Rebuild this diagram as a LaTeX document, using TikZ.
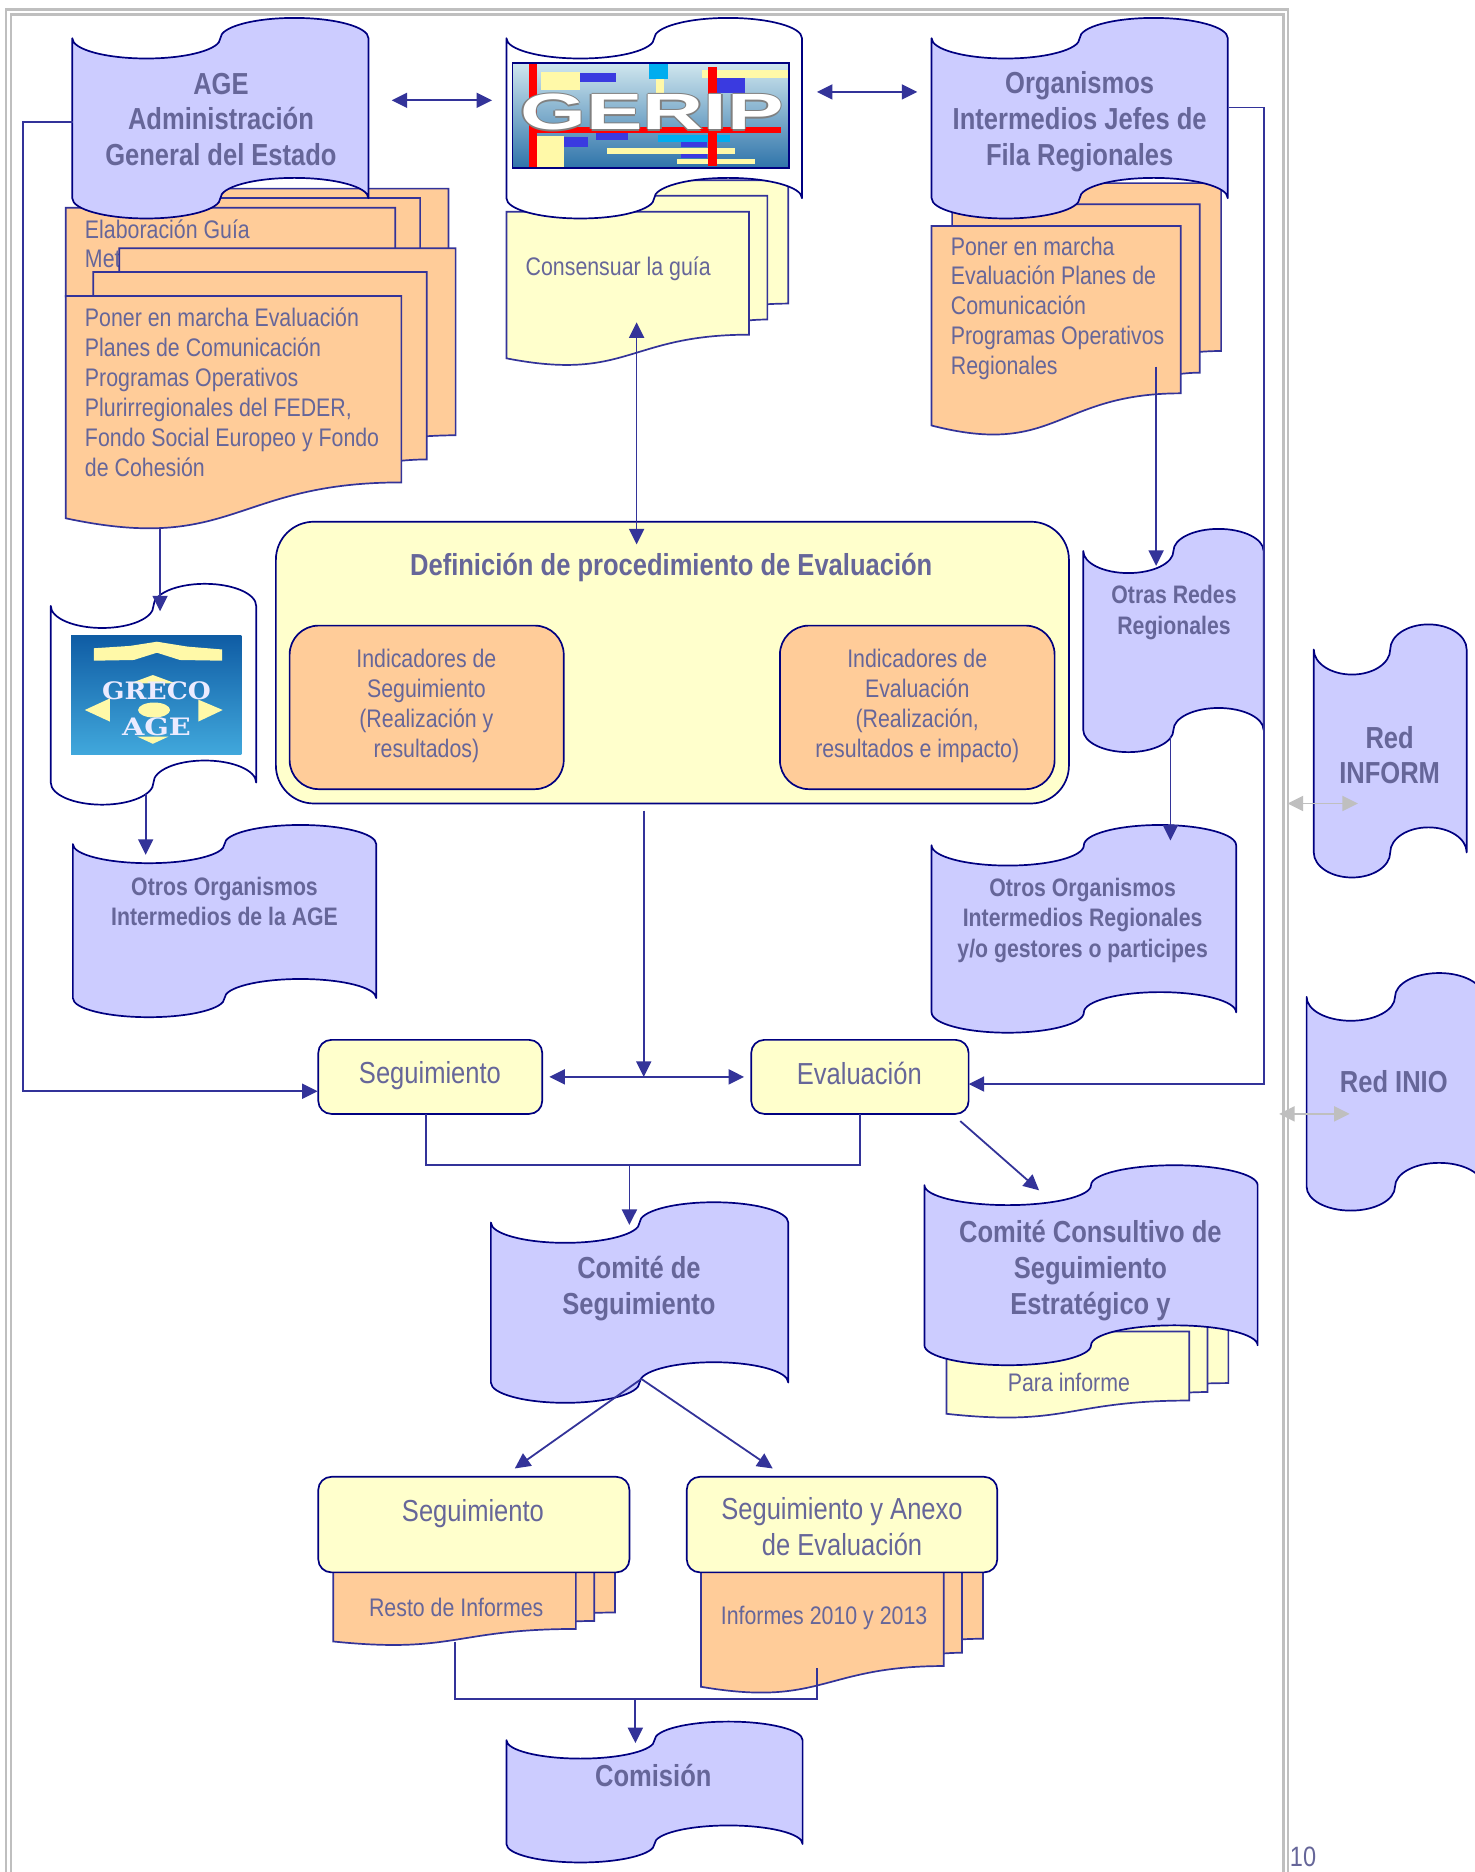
\documentclass[tikz,border=0pt]{standalone}
\usepackage{fontspec}
\usepackage{graphicx}
\setmainfont[FakeStretch=0.84]{Liberation Sans}
\newfontfamily\lgsans{Liberation Sans}
\newfontfamily\lgserif{DejaVu Serif}
\usetikzlibrary{arrows.meta,calc}
\definecolor{txt}{HTML}{666699}
\definecolor{lav}{HTML}{CCCCFF}
\definecolor{ora}{HTML}{FFCC99}
\definecolor{yel}{HTML}{FFFFCC}
\definecolor{navy}{HTML}{000080}
\definecolor{blu}{HTML}{333399}
\definecolor{gry}{HTML}{BFBFBF}
\definecolor{pale}{HTML}{FFF9A8}
\definecolor{gtop}{HTML}{CFE6EE}
\definecolor{gmid}{HTML}{86B4D4}
\definecolor{gbot}{HTML}{2F74AA}
\definecolor{ctop}{HTML}{0F5CA4}
\definecolor{cmid}{HTML}{1B74B8}
\definecolor{cbot}{HTML}{41A8DC}
\definecolor{gblue}{HTML}{3A3AE0}
\tikzset{
 tapeline/.style={draw=navy,line width=1.7pt,line join=round},
 docline/.style={draw=blu,line width=1.7pt,line join=miter},
 nbig/.style={text=txt,align=center,inner sep=0pt,font=\fontsize{30.4}{35.8}\selectfont\bfseries},
 nmid/.style={text=txt,align=center,inner sep=0pt,font=\fontsize{25.3}{30.4}\selectfont\bfseries},
 nreg/.style={text=txt,align=center,inner sep=0pt,font=\fontsize{25.4}{29.9}\selectfont},
 nleft/.style={text=txt,align=left,anchor=west,inner sep=0pt,font=\fontsize{25.4}{29.9}\selectfont},
 nbox/.style={text=txt,align=center,inner sep=0pt,font=\fontsize{30.4}{35.8}\selectfont},
 rbox/.style={tapeline,fill=#1,rounded corners=13pt},
 conn/.style={draw=blu,line width=1.8pt},
 arr/.style={conn,-{Triangle[length=15.5pt,width=15pt]}},
 darr/.style={conn,{Triangle[length=15.5pt,width=15pt]}-{Triangle[length=15.5pt,width=15pt]}},
 gdarr/.style={draw=gry,line width=1.8pt,{Triangle[length=15.5pt,width=15pt]}-{Triangle[length=15.5pt,width=15pt]}},
 frameline/.style={draw=gry,line width=2.4pt},
}
% fill, x, y, w, h, a
\newcommand\tapeshape[6]{%
 \pgfmathsetmacro\tH{#5/#6}\pgfmathsetmacro\tHa{\tH-1}\pgfmathsetmacro\tHb{\tH-2}%
 \pgfmathsetmacro\tHc{\tH-1.5523}\pgfmathsetmacro\tHd{\tH-.4477}%
 \begin{scope}[shift={(#2,#3)},xscale=#4/4,yscale=#6]
 \path[tapeline,fill=#1] (0,1) .. controls (0,1.5523) and (.4477,2) .. (1,2) .. controls (1.5523,2) and (2,1.5523) .. (2,1) .. controls (2,.4477) and (2.4477,0) .. (3,0) .. controls (3.5523,0) and (4,.4477) .. (4,1) -- (4,\tHa) .. controls (4,\tHc) and (3.5523,\tHb) .. (3,\tHb) .. controls (2.4477,\tHb) and (2,\tHc) .. (2,\tHa) .. controls (2,\tHd) and (1.5523,\tH) .. (1,\tH) .. controls (.4477,\tH) and (0,\tHd) .. (0,\tHa) -- cycle;
 \end{scope}}
% fill, x, y, w, h
\newcommand\mdoc[5]{%
 \begin{scope}[shift={(#2,#3)},xscale=#4/21.6,yscale=#5/21.6]
 \path[docline,fill=#1] (2.972,0) -- (21.6,0) -- (21.6,14.392) .. controls (20.8,14.392) and (20,14.467) .. (20,14.467) -- (2.972,14.467) -- cycle;
 \path[docline,fill=#1] (1.532,1.815) -- (20,1.815) -- (20,16.252) .. controls (19.298,16.252) and (18.595,16.352) .. (18.595,16.352) -- (1.532,16.352) -- cycle;
 \path[docline,fill=#1] (0,3.675) -- (18.595,3.675) -- (18.595,18.022) .. controls (9.298,18.022) and (9.298,23.542) .. (0,20.782) -- cycle;
 \end{scope}}
\begin{document}
\begin{tikzpicture}[x=1.19433pt,y=-1.19388pt]
\useasboundingbox (0,0) rectangle (1235,1568);
\clip (0,0) rectangle (1235,1568);
\fill[white] (0,0) rectangle (1235,1568);
% frame
\draw[frameline] (5,1568) -- (5,8) -- (1078.5,8) -- (1078.5,1568);
\draw[frameline] (9,1568) -- (9,12) -- (1074.5,12) -- (1074.5,1568);

% multi-documents and tapes, top row
\mdoc{ora}{55}{158}{320.5}{94}
\node[nleft] (tElab) at (71,192) {Elaboración Guía};
\node[nleft] (tMet) at (71,217) {Met};
\tapeshape{lav}{60.5}{15}{248}{168}{17}
\mdoc{ora}{55}{208}{326.5}{235}
\node[nleft,anchor=north west] (tPoner) at (71,258) {Poner en marcha Evaluación\\Planes de Comunicación\\Programas Operativos\\Plurirregionales del FEDER,\\Fondo Social Europeo y Fondo\\de Cohesión};
\node[nbig] (tAGE) at (185,100) {AGE\\Administración\\General del Estado};

\mdoc{yel}{424}{151}{236}{155}
\node[nleft] (tCons) at (440,225) {Consensuar la guía};
\tapeshape{white}{424}{15}{247.5}{168}{17}
% GERIP picture
\shade[top color=gtop,middle color=gmid,bottom color=gbot] (429,53) rectangle (660.5,140.5);
\fill[pale] (453,60) rectangle (486,75);
\fill[gblue] (486,61) rectangle (516,69);
\fill[cyan] (543,54) rectangle (559,66);
\fill[pale] (549,66) rectangle (556,78);
\fill[pale] (588,59) rectangle (660,65);
\fill[gblue] (600,65) rectangle (624,78);
\fill[pale] (450,114) rectangle (472,140);
\fill[gblue] (472,115) rectangle (492,123);
\fill[gblue] (499,111) rectangle (526,117);
\fill[cyan] (551,113) rectangle (611,119);
\fill[gblue] (570,119) rectangle (592,123);
\fill[pale] (508,124) rectangle (615,129);
\fill[gblue] (570,129) rectangle (592,132);
\fill[pale] (567,133) rectangle (632,137);
\fill[red] (443,54) rectangle (450,140);
\fill[red] (593,56) rectangle (600,139);
\fill[red] (449,106) rectangle (654,111);
\foreach \dx/\dy [count=\i] in {-1.2/0,1.2/0,0/-1.2,0/1.2}
 \node[inner sep=0pt,text=gray,font=\lgsans\fontsize{51}{51}\selectfont\bfseries] (gs\i) at (546+\dx,94+\dy) {\scalebox{1.66}[1]{GERIP}};
\node[inner sep=0pt,text=white,font=\lgsans\fontsize{51}{51}\selectfont\bfseries] (tGerip) at (546,94) {\scalebox{1.66}[1]{GERIP}};
\draw[navy,line width=1.6pt] (429,53) rectangle (660.5,140.5);

\mdoc{ora}{780}{153.4}{242.4}{211}
\tapeshape{lav}{780}{15}{248}{168}{17}
\node[nbig] (tOrg) at (904,102) {Organismos\\Intermedios Jefes de\\Fila Regionales};
\node[nleft,anchor=north west] (tPonerR) at (796,198) {Poner en marcha\\Evaluación Planes de\\Comunicación\\Programas Operativos\\Regionales};

% Definicion
\path[tapeline,fill=yel,rounded corners=38pt] (231,437) rectangle (895,673);
\path[tapeline,fill=ora,rounded corners=29pt] (242.5,524) rectangle (472,661);
\path[tapeline,fill=ora,rounded corners=29pt] (653,524) rectangle (883,661);
\node[nbig] (tDef) at (562,475) {Definición de procedimiento de Evaluación};
\node[nreg] (tIS) at (357,591) {Indicadores de\\Seguimiento\\(Realización y\\resultados)};
\node[nreg] (tIE) at (768,591) {Indicadores de\\Evaluación\\(Realización,\\resultados e impacto)};

% GRECO
\tapeshape{white}{42.5}{489}{172}{185}{18.5}
\shade[top color=ctop,middle color=cmid,bottom color=cbot] (59.5,532) rectangle (202,632);
\fill[pale] (78.5,543) -- (109,541) -- (131.4,537.5) -- (157,541.6) -- (186,544) -- (186,553.4) -- (150.6,552.8) -- (131.4,546.7) -- (112,552.8) -- (78.5,553.4) -- cycle;
\fill[pale] (128,565.4) -- (109,572.4) -- (147,572.4) -- cycle;
\fill[pale] (71,594.7) -- (92,585) -- (92,604.4) -- cycle;
\fill[pale] (186.5,594.7) -- (166,586) -- (166,604.4) -- cycle;
\fill[pale] (128,623) -- (115,617) -- (141,617) -- cycle;
\fill[pale] (129,594.7) ellipse[x radius=16pt,y radius=7.5pt];
\node[inner sep=0pt,text=white!92!blue,font=\lgserif\fontsize{24}{24}\selectfont\bfseries] (tGreco) at (131,578.5) {\scalebox{1.1}[1]{GRECO}};
\node[inner sep=0pt,text=white!92!blue,font=\lgserif\fontsize{24}{24}\selectfont\bfseries] (tAge2) at (131,609) {\scalebox{1.2}[1]{AGE}};

% other tapes
\tapeshape{lav}{61}{691}{254}{161}{16}
\node[nmid] (tOA) at (188,755) {Otros Organismos\\Intermedios de la AGE};
\tapeshape{lav}{907}{443}{151}{187}{18.5}
\node[nmid] (tOR) at (983,513) {Otras Redes\\Regionales};
\tapeshape{lav}{780}{691}{255}{174}{17}
\node[nmid] (tOI) at (906.5,771) {Otros Organismos\\Intermedios Regionales\\y/o gestores o participes};
\tapeshape{lav}{1100}{523}{128}{212}{21}
\node[nbig] (tInform) at (1163.5,632.5) {Red\\INFORM};
\tapeshape{lav}{1094}{815}{148}{199}{20}
\node[nbig] (tInio) at (1167,906) {Red INIO};

% Seguimiento / Evaluacion
\path[rbox=yel] (266.5,871) rectangle (454,933);
\path[rbox=yel] (629,871) rectangle (811,933);
\node[nbox] (tSeg) at (360,901) {Seguimiento};
\node[nbox] (tEva) at (719.5,899) {Evaluación};

% Comite
\mdoc{yel}{792.5}{1100.5}{236}{87}
\node[nreg] (tPara) at (895,1158) {Para informe};
\tapeshape{lav}{774}{976}{279}{167.5}{16.7}
\node[nbig] (tCC) at (913,1064) {Comité Consultivo de\\Seguimiento\\Estratégico y};
\tapeshape{lav}{411}{1007}{249}{168}{17}
\node[nbig] (tCS) at (535,1079) {Comité de\\Seguimiento};

% bottom
\mdoc{ora}{279}{1296}{236}{82}
\node[nreg] (tResto) at (382,1346) {Resto de Informes};
\mdoc{ora}{587}{1282}{236}{136}
\node[nreg] (tInf) at (690,1355) {Informes 2010 y 2013};
\path[rbox=yel] (266.5,1237) rectangle (527,1317);
\path[rbox=yel] (575,1237) rectangle (835,1317);
\node[nbox] (tSeg2) at (396,1268) {Seguimiento};
\node[nbox] (tSA) at (705,1279) {Seguimiento y Anexo\\de Evaluación};
\tapeshape{lav}{424}{1442}{248}{118}{15.5}
\node[nbig] (tCom) at (547,1487) {Comisión};
\node[text=txt,inner sep=0pt,font=\fontsize{28}{29}\selectfont] (tPag) at (1091,1555.5) {10};

% connector ends
\coordinate (a1) at (328,84); \coordinate (a2) at (412,84);
\coordinate (b1) at (684,77); \coordinate (b2) at (768,77);
\coordinate (c1) at (533,270); \coordinate (c2) at (533,456);
\coordinate (d1) at (61,102); \coordinate (d2) at (19,102); \coordinate (d3) at (19,914); \coordinate (d4) at (266,914);
\coordinate (e1) at (1029,90); \coordinate (e2) at (1058,90); \coordinate (e3) at (1058,908); \coordinate (e4) at (811,908);
\coordinate (f1) at (134,443); \coordinate (f2) at (134,512);
\coordinate (g1) at (122,665); \coordinate (g2) at (122,716);
\coordinate (h1) at (968,307); \coordinate (h2) at (968,474);
\coordinate (i1) at (980,617); \coordinate (i2) at (980,704);
\coordinate (j1) at (539,679); \coordinate (j2) at (539,902);
\coordinate (k1) at (460,902); \coordinate (k2) at (623,902);
\coordinate (l1) at (357,933); \coordinate (l2) at (357,976); \coordinate (l3) at (720,976); \coordinate (l4) at (720,933);
\coordinate (l5) at (527,976); \coordinate (l6) at (527,1026);
\coordinate (m1) at (804,939); \coordinate (m2) at (870,997);
\coordinate (n0) at (537,1155); \coordinate (n1) at (431,1230); \coordinate (n2) at (647,1230);
\coordinate (o1) at (381,1375); \coordinate (o2) at (381,1423); \coordinate (o3) at (684,1423); \coordinate (o4) at (684,1397);
\coordinate (o5) at (532,1423); \coordinate (o6) at (532,1460);
\coordinate (p1) at (1078,673); \coordinate (p2) at (1137,673);
\coordinate (q1) at (1071,933); \coordinate (q2) at (1130,933);

\draw[darr] (a1) -- (a2);
\draw[darr] (b1) -- (b2);
\draw[darr] (c1) -- (c2);
\draw[arr] (d1) -- (d2) -- (d3) -- (d4);
\draw[arr] (e1) -- (e2) -- (e3) -- (e4);
\draw[arr] (f1) -- (f2);
\draw[arr] (g1) -- (g2);
\draw[arr] (h1) -- (h2);
\draw[arr] (i1) -- (i2);
\draw[arr] (j1) -- (j2);
\draw[darr] (k1) -- (k2);
\draw[conn] (l1) -- (l2) -- (l3) -- (l4);
\draw[arr] (l5) -- (l6);
\draw[arr] (m1) -- (m2);
\draw[arr] (n0) -- (n1);
\draw[arr] (n0) -- (n2);
\draw[conn] (o1) -- (o2) -- (o3) -- (o4);
\draw[arr] (o5) -- (o6);
\draw[gdarr] (p1) -- (p2);
\draw[gdarr] (q1) -- (q2);
\end{tikzpicture}
\end{document}
